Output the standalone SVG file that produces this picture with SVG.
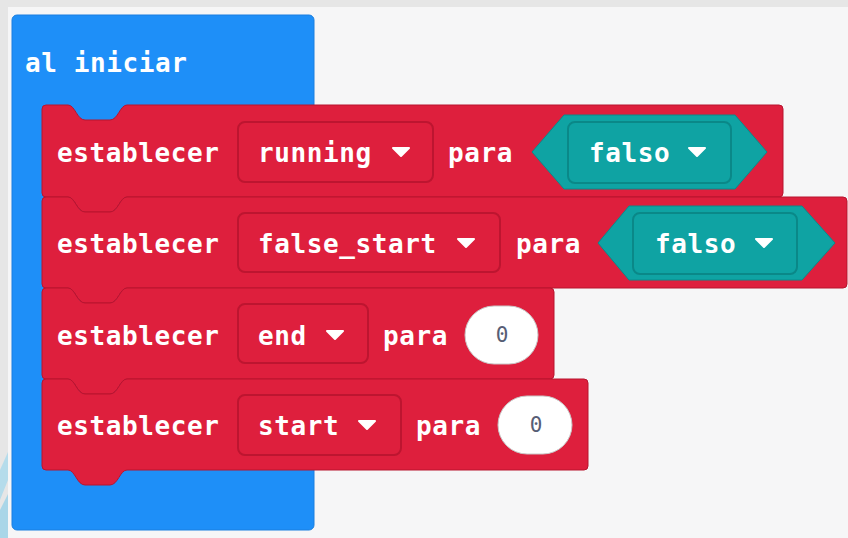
<svg xmlns="http://www.w3.org/2000/svg" width="848" height="538" viewBox="0 0 848 538">
  <defs>
    <style>
      .lbl { font-family: "DejaVu Sans Mono", "Liberation Mono", monospace; font-size: 26px; font-weight: bold; fill: #ffffff; letter-spacing: 0.6px; }
      .num { font-family: "DejaVu Sans Mono", "Liberation Mono", monospace; font-size: 21px; fill: #575e75; text-anchor: middle; }
      .stmt { fill: #de1f3d; stroke: #b8142f; stroke-width: 1; }
      .dd { fill: #de1f3d; stroke: #bd1530; stroke-width: 2; }
      .hex { fill: #0fa3a3; stroke: #0a8a8a; stroke-width: 1; }
      .hdd { fill: #0fa3a3; stroke: #0a8888; stroke-width: 2; }
      .arrow { fill: #ffffff; stroke: #ffffff; stroke-width: 2; stroke-linejoin: round; }
      .oval { fill: #ffffff; stroke: #c8c8c8; stroke-width: 1; }
    </style>
  </defs>

  <!-- workspace background -->
  <rect x="0" y="0" width="848" height="538" fill="#e6e6e6"/>
  <rect x="8" y="7" width="840" height="531" fill="#f6f6f7"/>
  <polygon points="0,470 8,452 8,480 0,500" fill="#b5dceb"/>
  <polygon points="0,510 8,494 8,538 0,538" fill="#a9d6e8"/>

  <!-- on start (hat) block -->
  <g id="on-start">
    <rect x="12" y="15" width="302" height="515" rx="5" fill="#1e8ff8" stroke="#1a7fe0" stroke-width="1"/>
    <text class="lbl" x="25" y="72">al iniciar</text>
  </g>

  <!-- set running to false -->
  <g id="set-running">
    <path class="stmt" d="M46,105 L68,105 C75,105 77,120 85,120 L110,120 C118,120 120,105 127,105 L779,105 Q783,105 783,109 L783,193 Q783,197 779,197 L127,197 C120,197 118,212 110,212 L85,212 C77,212 75,197 68,197 L46,197 Q42,197 42,193 L42,109 Q42,105 46,105 Z"/>
    <text class="lbl" x="57" y="162">establecer</text>
    <rect class="dd" x="238" y="122" width="195" height="60" rx="7"/>
    <text class="lbl" x="258" y="162">running</text>
    <path class="arrow" d="M393,148 L409,148 L401,156 Z"/>
    <text class="lbl" x="448" y="162">para</text>
    <polygon class="hex" points="532,152 564,115 735,115 767,152 735,189 564,189"/>
    <rect class="hdd" x="568" y="122" width="163" height="61" rx="7"/>
    <text class="lbl" x="589" y="162">falso</text>
    <path class="arrow" d="M689,148 L705,148 L697,156 Z"/>
  </g>

  <!-- set false_start to false -->
  <g id="set-false-start">
    <path class="stmt" d="M46,197 L68,197 C75,197 77,212 85,212 L110,212 C118,212 120,197 127,197 L843,197 Q847,197 847,201 L847,284 Q847,288 843,288 L127,288 C120,288 118,303 110,303 L85,303 C77,303 75,288 68,288 L46,288 Q42,288 42,284 L42,201 Q42,197 46,197 Z"/>
    <text class="lbl" x="57" y="253">establecer</text>
    <rect class="dd" x="238" y="213" width="262" height="59" rx="7"/>
    <text class="lbl" x="258" y="253">false_start</text>
    <path class="arrow" d="M458,239 L474,239 L466,247 Z"/>
    <text class="lbl" x="516" y="253">para</text>
    <polygon class="hex" points="598,243 629,206 802,206 835,243 802,280 629,280"/>
    <rect class="hdd" x="633" y="213" width="164" height="61" rx="7"/>
    <text class="lbl" x="655" y="253">falso</text>
    <path class="arrow" d="M756,239 L772,239 L764,247 Z"/>
  </g>

  <!-- set end to 0 -->
  <g id="set-end">
    <path class="stmt" d="M46,288 L68,288 C75,288 77,303 85,303 L110,303 C118,303 120,288 127,288 L550,288 Q554,288 554,292 L554,375 Q554,379 550,379 L127,379 C120,379 118,394 110,394 L85,394 C77,394 75,379 68,379 L46,379 Q42,379 42,375 L42,292 Q42,288 46,288 Z"/>
    <text class="lbl" x="57" y="345">establecer</text>
    <rect class="dd" x="238" y="304" width="130" height="59" rx="7"/>
    <text class="lbl" x="258" y="345">end</text>
    <path class="arrow" d="M327,331 L343,331 L335,339 Z"/>
    <text class="lbl" x="383" y="345">para</text>
    <rect class="oval" x="465" y="306" width="73" height="58" rx="29"/>
    <text class="num" x="502" y="342">0</text>
  </g>

  <!-- set start to 0 -->
  <g id="set-start">
    <path class="stmt" d="M46,379 L68,379 C75,379 77,394 85,394 L110,394 C118,394 120,379 127,379 L584,379 Q588,379 588,383 L588,466 Q588,470 584,470 L127,470 C120,470 118,485 110,485 L85,485 C77,485 75,470 68,470 L46,470 Q42,470 42,466 L42,383 Q42,379 46,379 Z"/>
    <text class="lbl" x="57" y="435">establecer</text>
    <rect class="dd" x="238" y="395" width="163" height="60" rx="7"/>
    <text class="lbl" x="258" y="435">start</text>
    <path class="arrow" d="M359,421 L375,421 L367,429 Z"/>
    <text class="lbl" x="416" y="435">para</text>
    <rect class="oval" x="498" y="396" width="74" height="58" rx="29"/>
    <text class="num" x="536" y="432">0</text>
  </g>
</svg>
